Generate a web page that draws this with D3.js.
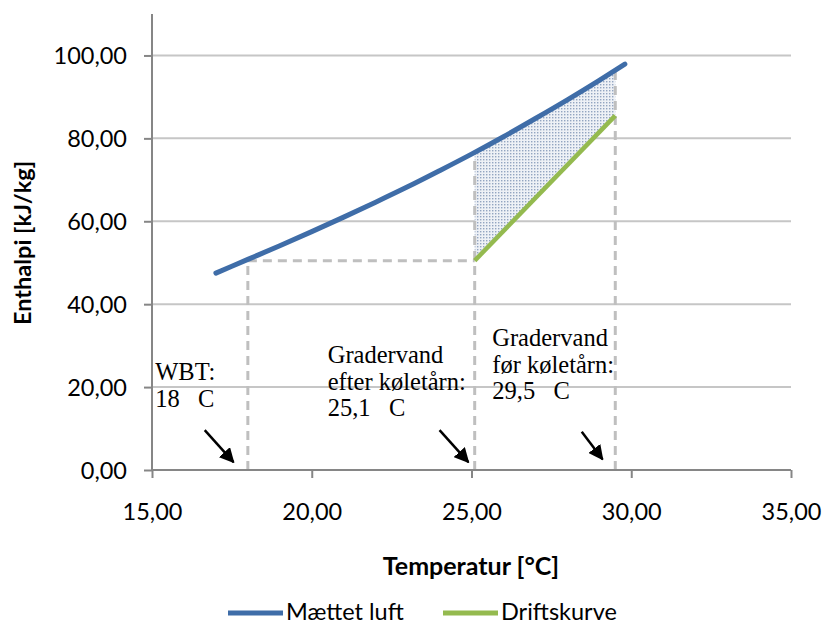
<!DOCTYPE html>
<html>
<head>
<meta charset="utf-8">
<script src="https://cdn.jsdelivr.net/npm/d3@7"></script>
<style>
  body { margin: 0; background: #fff; }
  svg { display: block; }
  .ann { font-family: "Liberation Serif", "Times New Roman", serif; font-size: 24.5px; white-space: pre; }
</style>
</head>
<body>
<svg id="chart" width="823" height="628"></svg>
<script>
// Saturated air (Mættet luft): temperature [°C] -> enthalpy [kJ/kg]
let satTemp = [17, 18, 19, 20, 21, 22, 23, 24, 25, 26, 27, 28, 29, 29.8];
let satEnth = [47.5, 50.8, 54.1, 57.5, 61.0, 64.6, 68.3, 72.2, 76.2, 80.4, 84.8, 89.3, 94.0, 97.9];

// Operating curve (Driftskurve)
let driftTemp = [25.1, 29.5];
let driftEnth = [50.5, 85.5];

// Upper edge of shaded area (on saturated curve)
let shadeTemp = [25.1, 26, 27, 28, 29, 29.5];
let shadeEnth = [76.6, 80.4, 84.8, 89.3, 94.0, 96.4];

// Dashed guide lines [x1, y1, x2, y2]
let guides = [
    [18, 0, 18, 50.5],
    [18, 50.5, 25.1, 50.5],
    [25.1, 0, 25.1, 76.6],
    [29.5, 0, 29.5, 96.4]
];

// Arrows [x1, y1, x2, y2]
let arrows = [
    [16.65, 9.6, 17.55, 1.9],
    [24.0, 9.6, 24.9, 1.9],
    [28.45, 9.2, 29.1, 2.6]
];

// Annotations [x, y, lines]
let notes = [
    [15.1, 21.6, ["WBT:", "18   C"]],
    [20.5, 25.8, ["Gradervand", "efter køletårn:", "25,1   C"]],
    [25.65, 29.8, ["Gradervand", "før køletårn:", "29,5   C"]]
];

let xTicks = [15, 20, 25, 30, 35];
let yTicks = [0, 20, 40, 60, 80, 100];

let svg = d3.select("#chart");
let x = d3.scaleLinear().domain([15, 35]).range([152, 791]);
let y = d3.scaleLinear().domain([0, 110]).range([470, 14]);
let fmt = d => d.toFixed(2).replace(".", ",");
let labelFont = "Lato, Carlito, 'Open Sans', sans-serif";

// dotted fill pattern
let defs = svg.append("defs");
let pat = defs.append("pattern")
    .attr("id", "dots")
    .attr("width", 3)
    .attr("height", 3)
    .attr("patternUnits", "userSpaceOnUse");
pat.append("rect").attr("width", 3).attr("height", 3).attr("fill", "#eef1f6");
pat.append("rect").attr("width", 1.4).attr("height", 1.4).attr("fill", "#93a5c1");

defs.append("marker")
    .attr("id", "arrow")
    .attr("viewBox", "0 0 10 10")
    .attr("refX", 9).attr("refY", 5)
    .attr("markerWidth", 6).attr("markerHeight", 6)
    .attr("orient", "auto")
    .append("path")
    .attr("d", "M0,0 L10,5 L0,10 z")
    .attr("fill", "#000");

// gridlines
svg.append("g")
    .selectAll("line")
    .data(yTicks.slice(1))
    .enter()
    .append("line")
    .attr("x1", x(15)).attr("x2", x(35))
    .attr("y1", d => y(d)).attr("y2", d => y(d))
    .attr("stroke", "#c6c6c6")
    .attr("stroke-width", 2);

// shaded area between curves
let areaPts = shadeTemp.map((t, i) => [x(t), y(shadeEnth[i])])
    .concat([[x(driftTemp[1]), y(driftEnth[1])], [x(driftTemp[0]), y(driftEnth[0])]]);
svg.append("path")
    .attr("d", "M" + areaPts.join("L") + "Z")
    .attr("fill", "url(#dots)");

// dashed guides
svg.append("g")
    .selectAll("line")
    .data(guides)
    .enter()
    .append("line")
    .attr("x1", d => x(d[0])).attr("y1", d => y(d[1]))
    .attr("x2", d => x(d[2])).attr("y2", d => y(d[3]))
    .attr("stroke", "#bfbfbf")
    .attr("stroke-width", 3)
    .attr("stroke-dasharray", "9,6");

// axes
let xAxis = svg.append("g").attr("transform", "translate(0," + y(0) + ")")
    .call(d3.axisBottom(x).tickValues(xTicks).tickSize(8).tickFormat(fmt));
let yAxis = svg.append("g").attr("transform", "translate(" + x(15) + ",0)")
    .call(d3.axisLeft(y).tickValues(yTicks).tickSize(8).tickFormat(fmt));
[xAxis, yAxis].forEach(g => {
    g.select(".domain").attr("stroke", "#868686").attr("stroke-width", 2);
    g.selectAll(".tick line").attr("stroke", "#868686").attr("stroke-width", 2);
    g.selectAll(".tick text").attr("fill", "#000")
        .attr("font-family", labelFont).attr("font-size", 23.5);
});
xAxis.select(".domain").attr("d", "M" + x(15) + ",0H" + x(35));
yAxis.select(".domain").attr("d", "M0," + y(110) + "V" + y(0));
xAxis.selectAll(".tick text").attr("dy", null).attr("y", 50);
yAxis.selectAll(".tick text").attr("x", -25).attr("dy", "0.36em");

// lines
let line = d3.line().x(d => x(d[0])).y(d => y(d[1]));
svg.append("path")
    .attr("d", line.curve(d3.curveMonotoneX)(satTemp.map((t, i) => [t, satEnth[i]])))
    .attr("fill", "none")
    .attr("stroke", "#3F6DA8")
    .attr("stroke-width", 5)
    .attr("stroke-linecap", "round");
svg.append("path")
    .attr("d", d3.line().x(d => x(d[0])).y(d => y(d[1]))(driftTemp.map((t, i) => [t, driftEnth[i]])))
    .attr("fill", "none")
    .attr("stroke", "#94BA4F")
    .attr("stroke-width", 4.5);

// arrows
svg.append("g")
    .selectAll("line")
    .data(arrows)
    .enter()
    .append("line")
    .attr("x1", d => x(d[0])).attr("y1", d => y(d[1]))
    .attr("x2", d => x(d[2])).attr("y2", d => y(d[3]))
    .attr("stroke", "#000")
    .attr("stroke-width", 2.5)
    .attr("marker-end", "url(#arrow)");

// annotations
notes.forEach(n => {
    let t = svg.append("text").attr("class", "ann")
        .attr("x", x(n[0])).attr("y", y(n[1]));
    n[2].forEach((s, i) => {
        t.append("tspan").attr("x", x(n[0])).attr("dy", i === 0 ? 0 : 26.5).text(s);
    });
});

// axis titles
svg.append("text")
    .attr("transform", "translate(31,243) rotate(-90)")
    .attr("text-anchor", "middle")
    .attr("font-family", labelFont)
    .attr("font-weight", "bold")
    .attr("font-size", 23.5)
    .text("Enthalpi [kJ/kg]");
svg.append("text")
    .attr("x", 471).attr("y", 575)
    .attr("text-anchor", "middle")
    .attr("font-family", labelFont)
    .attr("font-weight", "bold")
    .attr("font-size", 25)
    .text("Temperatur [°C]");

// legend
let legendItems = [["Mættet luft", "#3F6DA8", 228], ["Driftskurve", "#94BA4F", 443]];
let legend = svg.append("g");
legendItems.forEach(l => {
    legend.append("line")
        .attr("x1", l[2]).attr("x2", l[2] + 55)
        .attr("y1", 613).attr("y2", 613)
        .attr("stroke", l[1]).attr("stroke-width", 5);
    legend.append("text")
        .attr("x", l[2] + 58).attr("y", 620)
        .attr("font-family", labelFont)
        .attr("font-size", 23.5)
        .text(l[0]);
});
</script>
</body>
</html>
